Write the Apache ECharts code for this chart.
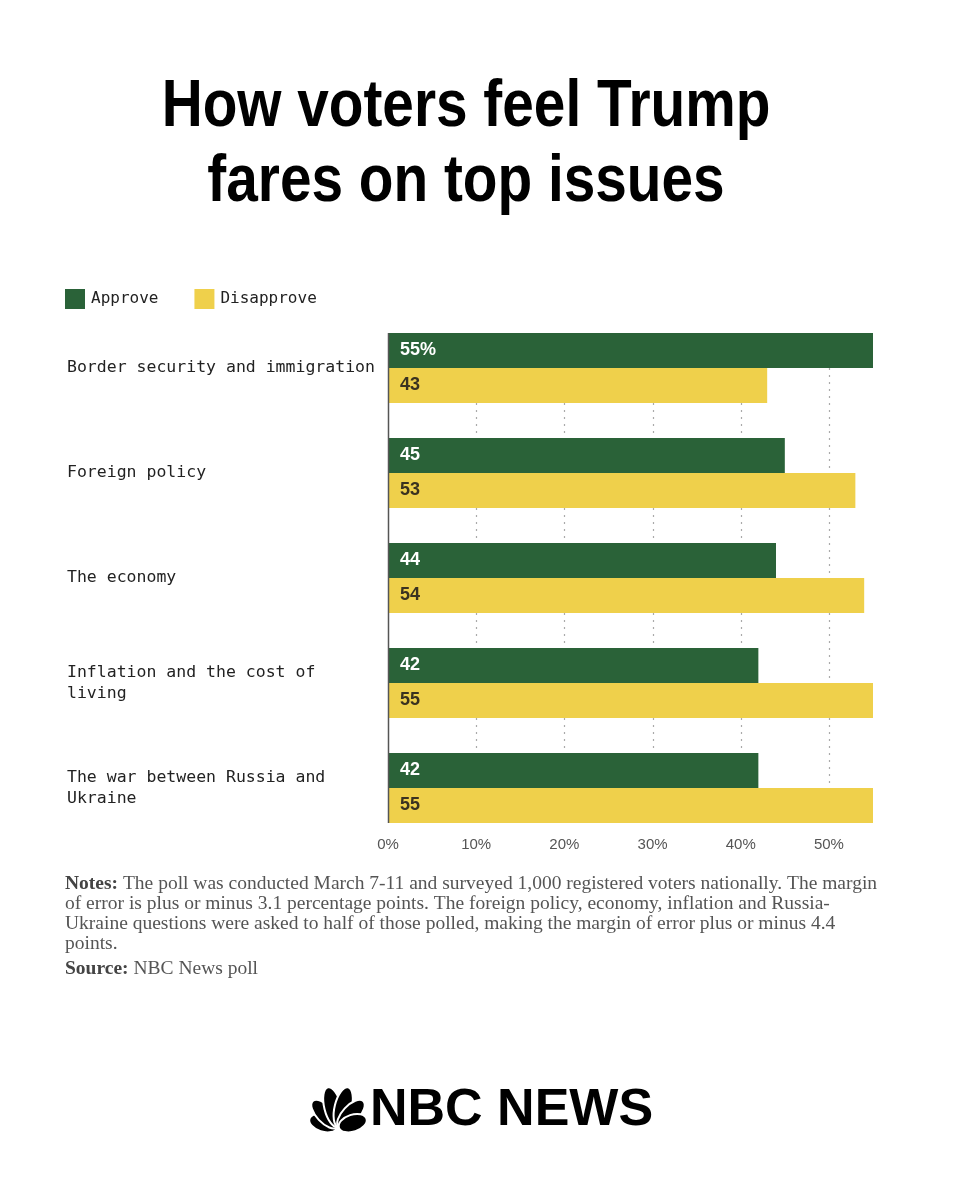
<!DOCTYPE html>
<html>
<head>
<meta charset="utf-8">
<title>How voters feel Trump fares on top issues</title>
<script src="https://cdn.jsdelivr.net/npm/echarts@6.0.0/dist/echarts.min.js"></script>
<style>
html, body {margin: 0; padding: 0; background: #fff;}
#main {width: 960px; height: 1200px;}
</style>
</head>
<body>
<div id="main"></div>
<script>
var issues = ['Border security and immigration', 'Foreign policy', 'The economy',
  'Inflation and the cost of living', 'The war between Russia and Ukraine'];
var approve = [55, 45, 44, 42, 42];
var disapprove = [43, 53, 54, 55, 55];
var xTicks = [0, 10, 20, 30, 40, 50];
var noteLines = [
  'The poll was conducted March 7-11 and surveyed 1,000 registered voters nationally. The margin',
  'of error is plus or minus 3.1 percentage points. The foreign policy, economy, inflation and Russia-',
  'Ukraine questions were asked to half of those polled, making the margin of error plus or minus 4.4',
  'points.'
];
var sourceText = 'NBC News poll';

var GREEN = '#2a6238';
var YELLOW = '#efd04b';
var MONO = '"DejaVu Sans Mono", "Liberation Mono", monospace';
var SANS = '"Liberation Sans", Arial, sans-serif';
var SERIF = '"Liberation Serif", serif';
var BAR_H = 35;

var chart = echarts.init(document.getElementById('main'));

function barLabel(color, pctFirst) {
  return {
    show: true,
    position: 'insideLeft',
    distance: 12,
    color: color,
    fontFamily: SANS,
    fontWeight: 'bold',
    fontSize: 18,
    formatter: function (p) {
      return (pctFirst && p.dataIndex === 0) ? p.value + '%' : '' + p.value;
    }
  };
}

chart.setOption({
  animation: false,
  legend: {
    left: 65,
    top: 289,
    padding: 0,
    icon: 'rect',
    itemWidth: 20,
    itemHeight: 20,
    itemGap: 36,
    textStyle: {fontFamily: MONO, fontSize: 16, color: '#222', padding: [0, 0, 0, 1]},
    data: ['Approve', 'Disapprove']
  },
  grid: {left: 388, right: 87, top: 315.5, height: 525, containLabel: false},
  xAxis: {
    type: 'value',
    min: 0,
    max: 55,
    interval: 10,
    axisLine: {show: false},
    axisTick: {show: false},
    splitLine: {show: false},
    axisLabel: {
      formatter: '{value}%',
      showMaxLabel: false,
      margin: -3,
      color: '#555',
      fontFamily: SANS,
      fontSize: 15
    }
  },
  yAxis: {
    type: 'category',
    data: issues,
    inverse: true,
    axisLine: {show: false},
    axisTick: {show: false},
    axisLabel: {
      align: 'left',
      margin: 321,
      width: 312,
      overflow: 'break',
      lineHeight: 21,
      fontFamily: MONO,
      fontSize: 16.5,
      color: '#222'
    }
  },
  series: [
    {
      name: 'Approve',
      type: 'bar',
      data: approve,
      barWidth: BAR_H,
      barGap: '0%',
      itemStyle: {color: GREEN},
      label: barLabel('#fff', true),
      z: 2
    },
    {
      name: 'Disapprove',
      type: 'bar',
      data: disapprove,
      barWidth: BAR_H,
      itemStyle: {color: YELLOW},
      label: barLabel('#3a3220', false),
      z: 2
    }
  ]
});

// grid lines only span the bars, so place them through the axes
var yTop = chart.convertToPixel({yAxisIndex: 0}, issues[0]) - BAR_H;
var yBot = chart.convertToPixel({yAxisIndex: 0}, issues[issues.length - 1]) + BAR_H;
var graphics = [];
xTicks.forEach(function (t) {
  var x = Math.round(chart.convertToPixel({xAxisIndex: 0}, t)) + 0.5;
  graphics.push({
    type: 'line',
    z: t === 0 ? 10 : 0,
    shape: {x1: x, y1: yTop, x2: x, y2: yBot},
    style: t === 0
      ? {stroke: '#555', lineWidth: 1.5}
      : {stroke: '#aaa', lineWidth: 1.2, lineDash: [2, 5]}
  });
});

// title (condensed look by squeezing a bold sans)
graphics.push({
  type: 'text', x: 466, y: 70, scaleX: 0.86,
  style: {
    text: 'How voters feel Trump\nfares on top issues',
    fill: '#000',
    font: 'bold 66px "Liberation Sans", Arial, sans-serif',
    textAlign: 'center',
    lineHeight: 75
  }
});

// notes
var richB = {b: {fontWeight: 'bold', fill: '#444', fontFamily: SERIF, fontSize: 19.5}};
noteLines.forEach(function (line, i) {
  graphics.push({
    type: 'text', x: 65, y: 884 + i * 20,
    style: {
      text: i === 0 ? '{b|Notes:} ' + line : line,
      fill: '#555',
      font: '19.5px ' + SERIF,
      verticalAlign: 'middle',
      rich: richB
    }
  });
});
graphics.push({
  type: 'text', x: 65, y: 969,
  style: {
    text: '{b|Source:} ' + sourceText,
    fill: '#555',
    font: '19.5px ' + SERIF,
    verticalAlign: 'middle',
    rich: richB
  }
});

// NBC News logo: simple peacock fan plus wordmark
var feathers = [];
[[-72, 29], [-43, 36], [-14, 41], [14, 41], [43, 36], [72, 29]].forEach(function (f) {
  feathers.push({
    type: 'group',
    rotation: -f[0] * Math.PI / 180,
    children: [{
      type: 'ellipse',
      shape: {cx: 0, cy: -f[1] / 2 - 1, rx: 8.5, ry: f[1] / 2},
      style: {fill: '#000', stroke: '#fff', lineWidth: 2}
    }]
  });
});
graphics.push({type: 'group', x: 338, y: 1128, children: feathers});
graphics.push({
  type: 'text', x: 370, y: 1111,
  style: {
    text: 'NBC NEWS',
    fill: '#000',
    font: 'bold 52px "Liberation Sans", Arial, sans-serif',
    verticalAlign: 'middle'
  }
});

chart.setOption({graphic: graphics});
</script>
</body>
</html>
